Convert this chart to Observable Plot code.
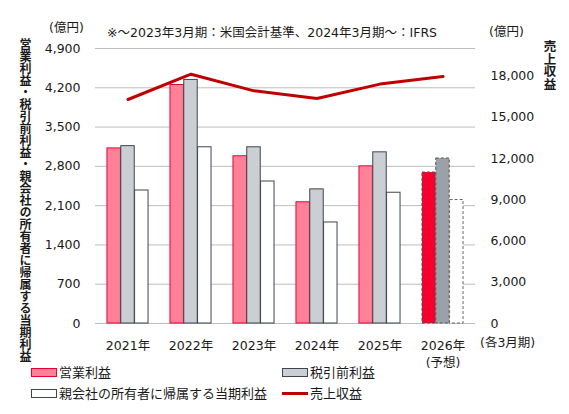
<!DOCTYPE html>
<html><head><meta charset="utf-8">
<script src="https://cdn.jsdelivr.net/npm/d3@7"></script>
<script src="https://cdn.jsdelivr.net/npm/@observablehq/plot@0.6"></script>
<style>
body{margin:0;background:#fff;font-family:"DejaVu Sans","Noto Sans CJK JP",sans-serif;color:#1a1a1a}
#chart{position:relative;width:569px;height:414px}
#chart svg{position:absolute;left:0;top:0}
.t{position:absolute;font-size:12.5px;line-height:1;white-space:nowrap}
.v{position:absolute;writing-mode:vertical-rl;font-family:"Noto Sans CJK JP";font-weight:bold;font-size:12px;line-height:1;white-space:nowrap}
.sw{position:absolute;width:26px;height:9px;box-sizing:border-box}
.lg{font-family:"Noto Sans CJK JP";font-size:13px}
</style></head>
<body><div id="chart"></div>
<script>
const years = ["2021年", "2022年", "2023年", "2024年", "2025年", "2026年"];
const forecast = [false, false, false, false, false, true];
const operating = [3120, 4250, 2980, 2160, 2800, 2690];
const pretax = [3160, 4340, 3140, 2390, 3050, 2940];
const net = [2370, 3140, 2530, 1800, 2330, 2200];
const revenue = [16290, 18130, 16920, 16360, 17410, 17960];
const leftTicks = d3.range(0, 4901, 700);
const rightTicks = d3.range(0, 18001, 3000);
const leftMax = 4900, rightMax = 20000;
const k = leftMax / rightMax; // 売上収益 -> 左軸の単位

const W = 569, H = 414, mL = 95, mR = 94, mT = 48, mB = 91;
const band = (W - mL - mR) / years.length;
const barW = 13.8;
const off = (band - 3 * barW) / 2;

const rows = years.map((y, i) => ({year: y, op: operating[i], pre: pretax[i], net: net[i], rev: revenue[i] * k, fc: forecast[i]}));
const act = rows.filter(d => !d.fc), fc = rows.filter(d => d.fc);

// slot = 0,1,2 で年の中で横に並べる
function bars(data, key, slot, style) {
  return Plot.barY(data, {x: "year", y: key, insetLeft: off + slot * barW, insetRight: band - off - (slot + 1) * barW, ...style});
}

const dash = {strokeDasharray: "3,2", strokeWidth: 1};

let chart = Plot.plot({
  width: W, height: H,
  marginLeft: mL, marginRight: mR, marginTop: mT, marginBottom: mB,
  style: {fontFamily: "'DejaVu Sans', 'Noto Sans CJK JP'", fontSize: "12.5px", color: "#1a1a1a", background: "transparent"},
  x: {domain: years, padding: 0, axis: null},
  y: {domain: [0, leftMax], axis: null},
  marks: [
    Plot.gridY(leftTicks, {stroke: "#bdbdbd", strokeOpacity: 1}),
    bars(act, "op", 0, {fill: "#ff8197", stroke: "#e8003a"}),
    bars(act, "pre", 1, {fill: "#cbcfd3", stroke: "#3d4650"}),
    bars(act, "net", 2, {fill: "#fff", stroke: "#3d4650"}),
    bars(fc, "op", 0, {fill: "#f5002e", stroke: "#555", ...dash}),
    bars(fc, "pre", 1, {fill: "#9aa1a8", stroke: "#555", ...dash}),
    bars(fc, "net", 2, {fill: "#fff", stroke: "#666", ...dash}),
    Plot.lineY(rows, {x: "year", y: "rev", stroke: "#c00000", strokeWidth: 3}),
    Plot.axisY(leftTicks, {anchor: "left", tickSize: 0, tickPadding: 15, tickFormat: d3.format(","), label: null}),
    Plot.axisY(rightTicks.map(v => v * k), {anchor: "right", tickSize: 0, tickPadding: 15, tickFormat: d => d3.format(",")(Math.round(d / k)), label: null}),
    Plot.axisX(years, {anchor: "bottom", tickSize: 0, tickPadding: 14, lineHeight: 1.4, label: null,
      tickFormat: d => forecast[years.indexOf(d)] ? d + "\n(予想)" : d})
  ]
});

const box = d3.select('#chart');
box.append(() => chart);

const add = (cls, x, y, text) => box.append("div").attr("class", cls).style("left", x + "px").style("top", y + "px").text(text);
add("t", 49, 22, "(億円)");
add("t", 107, 27, "※～2023年3月期：米国会計基準、2024年3月期～：IFRS");
add("t", 489, 26, "(億円)");
add("t", 480, 337, "(各3月期)");
add("v", 19, 38, "営業利益・税引前利益・親会社の所有者に帰属する当期利益");
add("v", 543, 40, "売上収益").style("font-size", "12.5px");

// 凡例
const sw = (x, y, fill, stroke) => box.append("div").attr("class", "sw").style("left", x + "px").style("top", y + "px").style("background", fill).style("border", "1px solid " + stroke);
sw(31, 368, "#ff8197", "#e8003a");
add("t lg", 59, 365, "営業利益");
sw(282, 368, "#cbcfd3", "#3d4650");
add("t lg", 310, 365, "税引前利益");
sw(31, 389, "#fff", "#3d4650");
add("t lg", 59, 386, "親会社の所有者に帰属する当期利益");
box.append("div").style("position", "absolute").style("left", "282px").style("top", "392px").style("width", "26px").style("height", "3px").style("background", "#c00000");
add("t lg", 310, 386, "売上収益");
</script>
</body></html>
